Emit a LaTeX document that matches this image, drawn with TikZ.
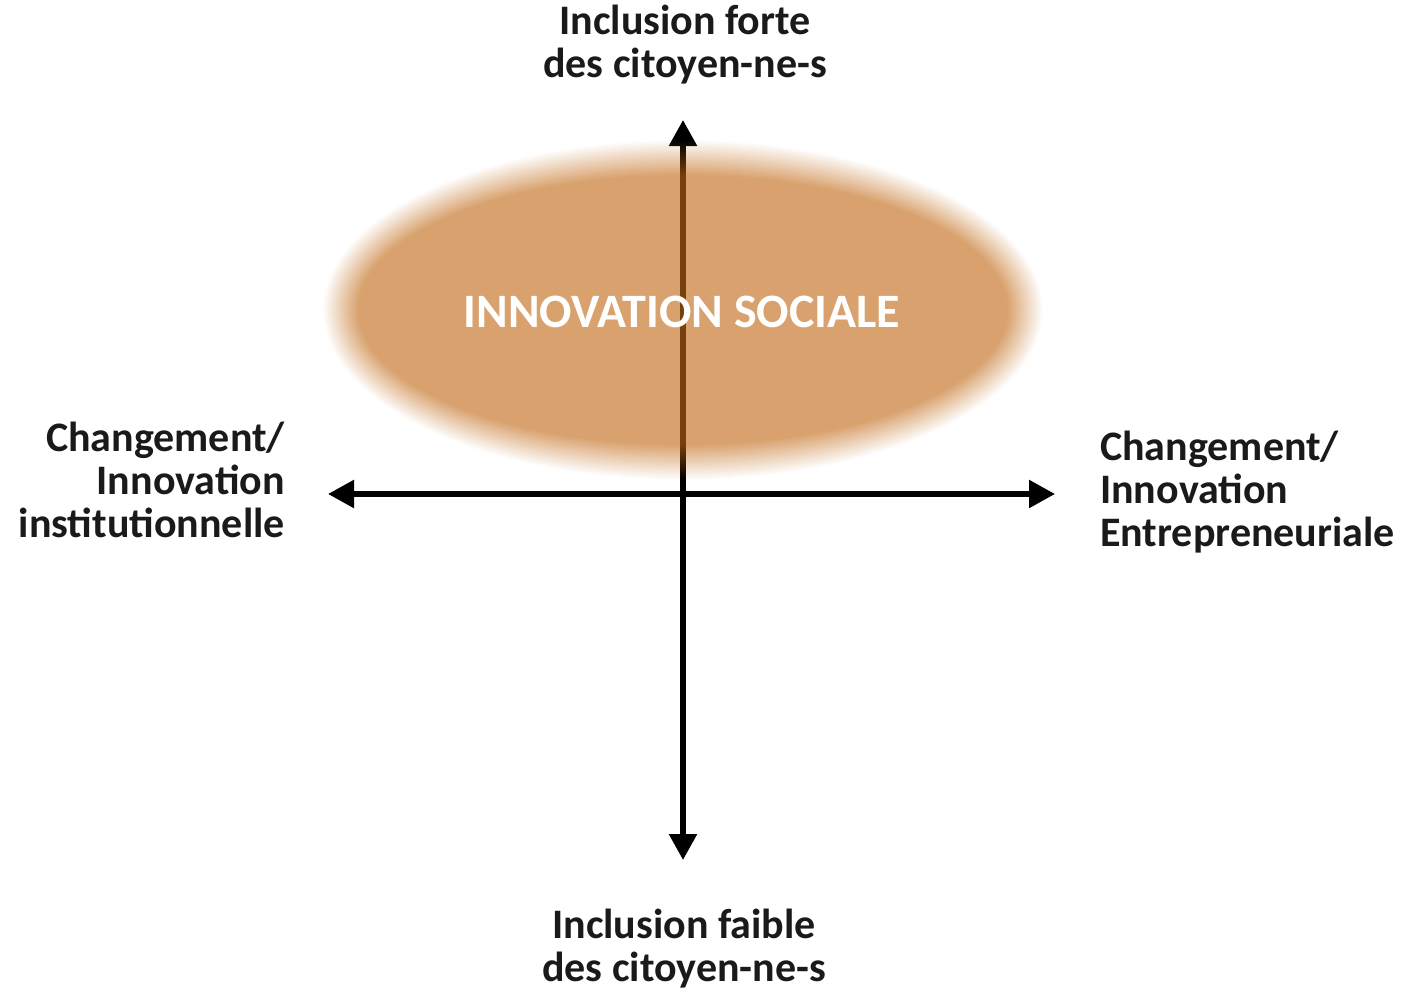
\documentclass[tikz,border=0pt]{standalone}
\usepackage{fontspec}
\setmainfont{Carlito}
\usetikzlibrary{arrows.meta}
\definecolor{txt}{RGB}{26,26,26}
\definecolor{ellcol}{RGB}{192,104,20}
\tikzset{
  axisline/.style={line width=5.5pt, black, {Triangle[length=26pt,width=27pt]}-{Triangle[length=26pt,width=27pt]}},
  lbl/.style={inner sep=0pt, text=txt, font=\bfseries\fontsize{42}{43}\selectfont},
  core/.style={inner sep=0pt, text=white, font=\bfseries\fontsize{48}{50}\selectfont}
}
\begin{document}
\begin{tikzpicture}[x=1pt,y=-1pt]
\path[use as bounding box] (0,0) rectangle (1416,990);
% axes
\coordinate (top) at (683,120);
\coordinate (bot) at (683,860);
\coordinate (lft) at (328,494);
\coordinate (rgt) at (1055,494);
\draw[axisline] (bot) -- (top);
\draw[axisline] (lft) -- (rgt);
% blurred ellipse
\begin{scope}[transparency group, opacity=0.62]
\foreach \k in {1,...,24}{
  \pgfmathsetmacro\d{18-1.5*\k}
  \pgfmathsetmacro\a{1/(25-\k)}
  \fill[ellcol, opacity=\a] (683,310) ellipse [x radius=343+\d, y radius=153+\d];
}
\end{scope}
\node[core] (is) at (682,312) {INNOVATION SOCIALE};
% labels
\node[lbl, align=center] (lt) at (685,45) {Inclusion forte\\des citoyen-ne-s};
\node[lbl, align=center] (lb) at (684,949) {Inclusion faible\\des citoyen-ne-s};
\node[lbl, align=right, anchor=east] (ll) at (285,480) {Changement/\\Innovation\\institutionnelle};
\node[lbl, align=left, anchor=west] (lr) at (1100,492) {Changement/\\Innovation\\Entrepreneuriale};
\end{tikzpicture}
\end{document}
